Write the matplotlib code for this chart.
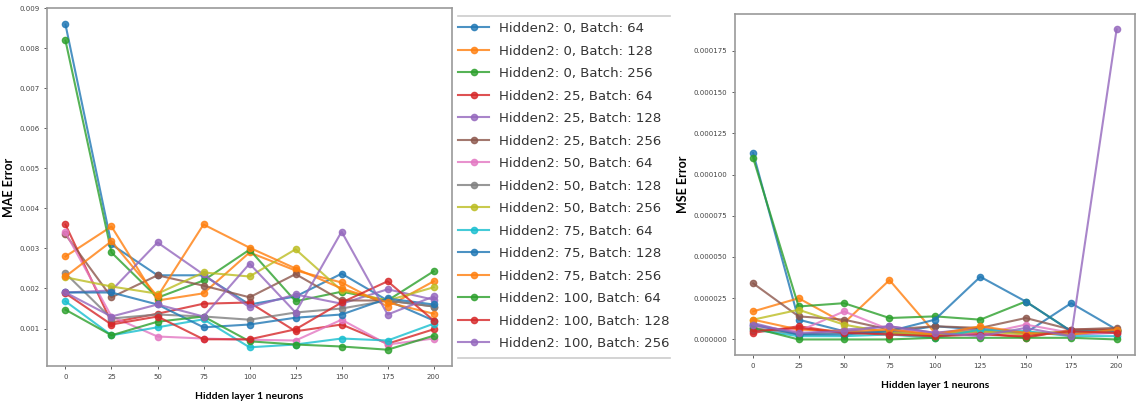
import matplotlib
matplotlib.use("Agg")
import matplotlib.pyplot as plt
from matplotlib.lines import Line2D

# hidden layer 1 sizes on the x axis
neurons = [0, 25, 50, 75, 100, 125, 150, 175, 200]

labels = [
    "Hidden2: 0, Batch: 64", "Hidden2: 0, Batch: 128", "Hidden2: 0, Batch: 256",
    "Hidden2: 25, Batch: 64", "Hidden2: 25, Batch: 128", "Hidden2: 25, Batch: 256",
    "Hidden2: 50, Batch: 64", "Hidden2: 50, Batch: 128", "Hidden2: 50, Batch: 256",
    "Hidden2: 75, Batch: 64", "Hidden2: 75, Batch: 128", "Hidden2: 75, Batch: 256",
    "Hidden2: 100, Batch: 64", "Hidden2: 100, Batch: 128", "Hidden2: 100, Batch: 256",
]

# MAE per configuration
mae = [
    [0.0086, 0.0031, 0.00233, 0.00233, 0.0016, 0.0018, 0.00237, 0.0017, 0.0012],
    [0.0028, 0.00355, 0.0017, 0.00188, 0.0029, 0.00245, 0.00215, 0.00155, 0.00218],
    [0.0082, 0.0029, 0.00177, 0.0022, 0.00297, 0.00168, 0.00192, 0.0017, 0.00243],
    [0.0036, 0.00115, 0.00137, 0.00162, 0.00165, 0.00093, 0.0011, 0.00062, 0.00098],
    [0.0019, 0.00195, 0.00315, 0.00235, 0.00153, 0.00185, 0.00162, 0.00198, 0.00172],
    [0.00335, 0.00178, 0.00233, 0.00207, 0.00178, 0.00236, 0.0017, 0.0017, 0.00155],
    [0.0034, 0.0013, 0.0008, 0.00075, 0.00072, 0.0007, 0.00122, 0.0006, 0.00075],
    [0.00238, 0.00125, 0.00135, 0.0013, 0.00122, 0.0014, 0.0015, 0.0017, 0.00155],
    [0.00228, 0.00205, 0.00187, 0.0024, 0.0023, 0.00298, 0.00195, 0.0017, 0.00203],
    [0.00168, 0.00083, 0.00103, 0.00123, 0.00053, 0.0006, 0.00075, 0.0007, 0.00112],
    [0.0019, 0.0019, 0.0016, 0.00103, 0.0011, 0.00127, 0.00135, 0.00175, 0.0016],
    [0.0023, 0.00318, 0.0018, 0.0036, 0.00302, 0.0025, 0.002, 0.00165, 0.00137],
    [0.00147, 0.00083, 0.00117, 0.0013, 0.00068, 0.0006, 0.00055, 0.00047, 0.00082],
    [0.00188, 0.0011, 0.0013, 0.00073, 0.00073, 0.00098, 0.00165, 0.00218, 0.0012],
    [0.0019, 0.0013, 0.0016, 0.0013, 0.00262, 0.0014, 0.00342, 0.00135, 0.0018],
]

# MSE per configuration
mse = [
    [0.000113, 0.000012, 0.000005, 0.000004, 0.000008, 0.000006, 0.000004, 0.000022, 0.000006],
    [0.000017, 0.000025, 0.00001, 0.000036, 0.000004, 0.000006, 0.000004, 0.000004, 0.000005],
    [0.00011, 0.00002, 0.000022, 0.000013, 0.000014, 0.000012, 0.000023, 0.000005, 0.000006],
    [0.000004, 0.000008, 0.000004, 0.000004, 0.000002, 0.000004, 0.000001, 0.000006, 0.000006],
    [0.00001, 0.000003, 0.000006, 0.000008, 0.000004, 0.000007, 0.000004, 0.000003, 0.000004],
    [0.000034, 0.000014, 0.000012, 0.000006, 0.000008, 0.000007, 0.000013, 0.000006, 0.000007],
    [0.000008, 0.000005, 0.000017, 0.000006, 0.000004, 0.000003, 0.000009, 0.000004, 0.000004],
    [0.000007, 0.000003, 0.000004, 0.000005, 0.000003, 0.000005, 0.000004, 0.000004, 0.000005],
    [0.000012, 0.000018, 0.000009, 0.000004, 0.000003, 0.000005, 0.000003, 0.000005, 0.000005],
    [0.000006, 0.000002, 0.000002, 0.000003, 0.000001, 0.000006, 0.000005, 0.000002, 0.000002],
    [0.000009, 0.000003, 0.000003, 0.000005, 0.000012, 0.000038, 0.000023, 0.000005, 0.000005],
    [0.000012, 0.000006, 0.000005, 0.000006, 0.000003, 0.000008, 0.000004, 0.000003, 0.000006],
    [0.000007, 0.0, 0.0, 0.0, 0.000001, 0.000001, 0.000001, 0.000001, 0.0],
    [0.000005, 0.000007, 0.000004, 0.000003, 0.000002, 0.000003, 0.000002, 0.000005, 0.000004],
    [0.000009, 0.000004, 0.000005, 0.000008, 0.000004, 0.000002, 0.000007, 0.000002, 0.000188],
]

colors = [f"C{i % 10}" for i in range(len(labels))]

fig = plt.figure(figsize=(11.39, 4.08), dpi=100)
ax1 = fig.add_axes([0.0413, 0.103, 0.3556, 0.877])
ax2 = fig.add_axes([0.6453, 0.130, 0.351, 0.836])

for ax, data, ylab in [(ax1, mae, "MAE Error"), (ax2, mse, "MSE Error")]:
    for vals, c, lab in zip(data, colors, labels):
        ax.plot(neurons, vals, marker="o", color=c, lw=1.5, ms=4.5, alpha=0.8, label=lab)
    ax.set_xticks(neurons)
    ax.tick_params(labelsize=5, length=2, width=0.6, colors="#444444")
    for s in ax.spines.values():
        s.set_color("#999999")
        s.set_linewidth(1.2)
    ax.set_ylabel(ylab, fontsize=9, fontweight="bold", family="Lato", labelpad=3)
    ax.set_xlabel("Hidden layer 1 neurons", fontsize=7.5, fontweight="bold", family="Lato", labelpad=9)

ax2.yaxis.set_major_formatter(plt.FormatStrFormatter("%.6f"))

handles, labs = ax1.get_legend_handles_labels()
leg = fig.legend(handles, labs, loc="upper left", bbox_to_anchor=(0.392, 0.975),
                 fontsize=9.5, frameon=False, handlelength=2.3, labelspacing=0.72)
for t in leg.get_texts():
    t.set_color("#333333")

# thin rules above and below the legend
for y in (0.961, 0.123):
    fig.add_artist(Line2D([0.402, 0.588], [y, y], color="#cccccc", lw=1.2))

fig.savefig("out.png", dpi=100)
